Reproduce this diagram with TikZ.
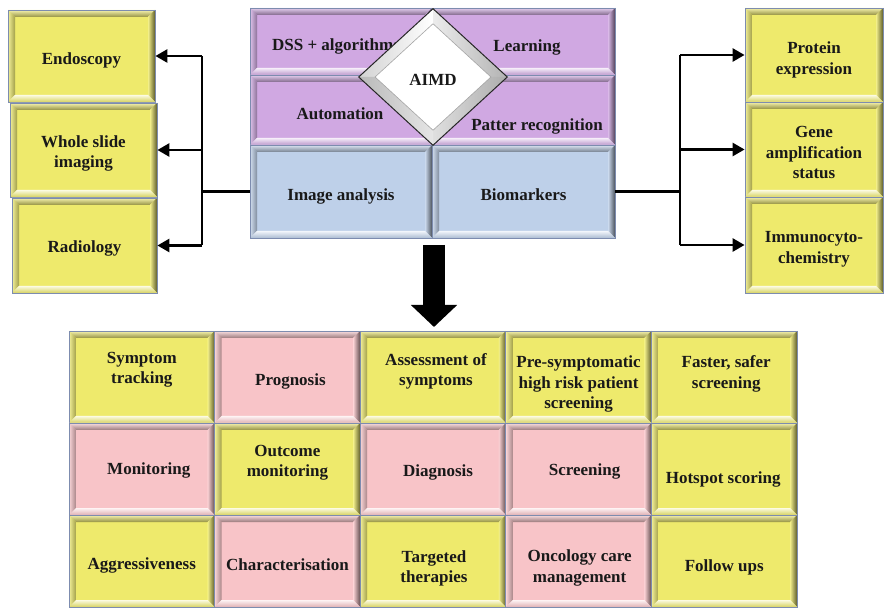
\documentclass[tikz,border=0pt]{standalone}
\usepackage{fontspec}
\setmainfont{Liberation Serif}
\usetikzlibrary{arrows.meta,shapes.geometric,calc}

\definecolor{ylw}{RGB}{238,234,108}
\definecolor{pnk}{RGB}{248,196,200}
\definecolor{prp}{RGB}{208,168,226}
\definecolor{blu}{RGB}{190,208,233}
\definecolor{edge}{RGB}{125,140,175}

% tile: name, colour, x, y, width, height, text offset, text
\newcommand\beveltile[8]{%
  \node[bevelbox=#2, minimum width=#5pt, minimum height=#6pt] (#1) at (#3,#4) {};
  \node[txt] (#1-t) at ($(#1.center)+#7$) {#8};}
% grid cell: name, colour, x, y, text offset, text
\newcommand\gridtile[6]{\beveltile{#1}{#2}{#3}{#4}{145.6}{92}{#5}{#6}}

\begin{document}
\begin{tikzpicture}[x=1pt,y=-1pt,
  txt/.style={font=\bfseries\fontsize{17}{20.5}\selectfont, align=center, text=black!90},
  % raised rectangular tile with bevelled rim
  bevelbox/.style={rectangle, draw=edge, line width=0.8pt, fill=#1, inner sep=0pt,
    path picture={
      \path (path picture bounding box.north west) coordinate (bnw)
            (path picture bounding box.north east) coordinate (bne)
            (path picture bounding box.south west) coordinate (bsw)
            (path picture bounding box.south east) coordinate (bse);
      \shade[top color=#1!55!white, bottom color=#1!62!black]
        (bnw) -- (bne) -- ([shift={(-7pt,-7pt)}]bne) -- ([shift={(7pt,-7pt)}]bnw) -- cycle;
      \shade[left color=#1!70!white, right color=#1!68!black]
        (bnw) -- ([shift={(7pt,-7pt)}]bnw) -- ([shift={(7pt,7pt)}]bsw) -- (bsw) -- cycle;
      \shade[left color=#1!80!white, right color=#1!40!black]
        (bne) -- (bse) -- ([shift={(-7pt,7pt)}]bse) -- ([shift={(-7pt,-7pt)}]bne) -- cycle;
      \shade[top color=#1!20!white, bottom color=#1!90!black]
        (bsw) -- (bse) -- ([shift={(-7pt,7pt)}]bse) -- ([shift={(7pt,7pt)}]bsw) -- cycle;
    }},
  % central diamond with bevelled rim
  hub/.style={diamond, draw=black!85, line width=1pt, fill=white, inner sep=0pt,
    minimum width=149pt, minimum height=137pt,
    path picture={
      \path (path picture bounding box.north) coordinate (dn)
            (path picture bounding box.south) coordinate (ds)
            (path picture bounding box.east) coordinate (de)
            (path picture bounding box.west) coordinate (dw)
            (path picture bounding box.center) coordinate (dc);
      \shade[left color=gray!35, right color=white]
        (dn) -- (dw) -- ($(dw)!0.22!(dc)$) -- ($(dn)!0.22!(dc)$) -- cycle;
      \shade[left color=gray!15, right color=gray!60]
        (dn) -- (de) -- ($(de)!0.22!(dc)$) -- ($(dn)!0.22!(dc)$) -- cycle;
      \shade[left color=gray!25, right color=gray!65]
        (ds) -- (de) -- ($(de)!0.22!(dc)$) -- ($(ds)!0.22!(dc)$) -- cycle;
      \shade[left color=gray!55, right color=gray!20]
        (ds) -- (dw) -- ($(dw)!0.22!(dc)$) -- ($(ds)!0.22!(dc)$) -- cycle;
      \draw[gray!70, line width=0.6pt] ($(dn)!0.22!(dc)$) -- ($(de)!0.22!(dc)$)
        -- ($(ds)!0.22!(dc)$) -- ($(dw)!0.22!(dc)$) -- cycle;
    }},
  wire/.style={line width=2.6pt, line join=miter},
  arr/.style={wire, -{Triangle[length=12pt,width=13pt]}},
]
\useasboundingbox (0,0) rectangle (884,609);

% ---- left column ----
\beveltile{endo}{ylw}{81.5}{56}{147}{92}{(0,4)}{Endoscopy}
\beveltile{wsi}{ylw}{83.5}{150}{147}{94}{(0,3.5)}{Whole slide\\imaging}
\beveltile{radio}{ylw}{84.5}{245.5}{145}{95}{(0,3)}{Radiology}

% ---- right column ----
\beveltile{prot}{ylw}{814}{55}{138}{94}{(0,5)}{Protein\\expression}
\beveltile{gene}{ylw}{814}{149.5}{138}{95}{(0,3)}{Gene\\amplification\\status}
\beveltile{immu}{ylw}{814}{245}{138}{96}{(0,4.5)}{Immunocyto-\\chemistry}

% ---- central block ----
\beveltile{dss}{prp}{341}{41.5}{182}{67}{(-5,4.5)}{DSS + algorithms}
\beveltile{learn}{prp}{523.5}{41.5}{183}{67}{(3.5,5.5)}{Learning}
\beveltile{auto}{prp}{341}{110}{182}{70}{(-1,4)}{Automation}
\beveltile{pat}{prp}{523.5}{110}{183}{70}{(13.5,16)}{Patter recognition}
\beveltile{ia}{blu}{341}{191.5}{182}{93}{(0,5)}{Image analysis}
\beveltile{bio}{blu}{523.5}{191.5}{183}{93}{(0,3)}{Biomarkers}

\node[hub] (aimd) at (433,77) {};
\node[txt] (aimd-t) at ($(aimd.center)+(0,2.5)$) {AIMD};

% ---- connectors to the side columns ----
\coordinate (jl) at (202,192);
\coordinate (jr) at (680,192);
\draw[wire] (jl |- endo.east) -- (jl |- radio.east);
\draw[wire] (ia.west) -- (ia.west -| jl);
\draw[arr] (jl |- endo.east) -- (endo.east);
\draw[arr] (jl |- wsi.east) -- (wsi.east);
\draw[arr] (jl |- radio.east) -- (radio.east);

\draw[wire] (jr |- prot.west) -- (jr |- immu.west);
\draw[wire] (bio.east) -- (bio.east -| jr);
\draw[arr] (jr |- prot.west) -- (prot.west);
\draw[arr] (jr |- gene.west) -- (gene.west);
\draw[arr] (jr |- immu.west) -- (immu.west);

% ---- big downward arrow ----
\coordinate (dtop) at (434,245);
\coordinate (dbot) at (434,327);
\draw[line width=22pt, -{Triangle[length=22pt,width=45pt]}] (dtop) -- (dbot);

% ---- application grid ----
\gridtile{c11}{ylw}{141.8}{377}{(0,-7.5)}{Symptom\\tracking}
\gridtile{c12}{pnk}{287.4}{377}{(3,4)}{Prognosis}
\gridtile{c13}{ylw}{433.0}{377}{(3,-5.5)}{Assessment of\\symptoms}
\gridtile{c14}{ylw}{578.6}{377}{(0,7)}{Pre-symptomatic\\high risk patient\\screening}
\gridtile{c15}{ylw}{724.2}{377}{(2,-3)}{Faster, safer\\screening}

\gridtile{c21}{pnk}{141.8}{469}{(7,1)}{Monitoring}
\gridtile{c22}{ylw}{287.4}{469}{(0,-6.5)}{Outcome\\monitoring}
\gridtile{c23}{pnk}{433.0}{469}{(5,3)}{Diagnosis}
\gridtile{c24}{pnk}{578.6}{469}{(6,2)}{Screening}
\gridtile{c25}{ylw}{724.2}{469}{(-1,10)}{Hotspot scoring}

\gridtile{c31}{ylw}{141.8}{561}{(0,4)}{Aggressiveness}
\gridtile{c32}{pnk}{287.4}{561}{(0,4)}{Characterisation}
\gridtile{c33}{ylw}{433.0}{561}{(1,7.5)}{Targeted\\therapies}
\gridtile{c34}{pnk}{578.6}{561}{(1,7)}{Oncology care\\management}
\gridtile{c35}{ylw}{724.2}{561}{(0,6)}{Follow ups}
\end{tikzpicture}
\end{document}
